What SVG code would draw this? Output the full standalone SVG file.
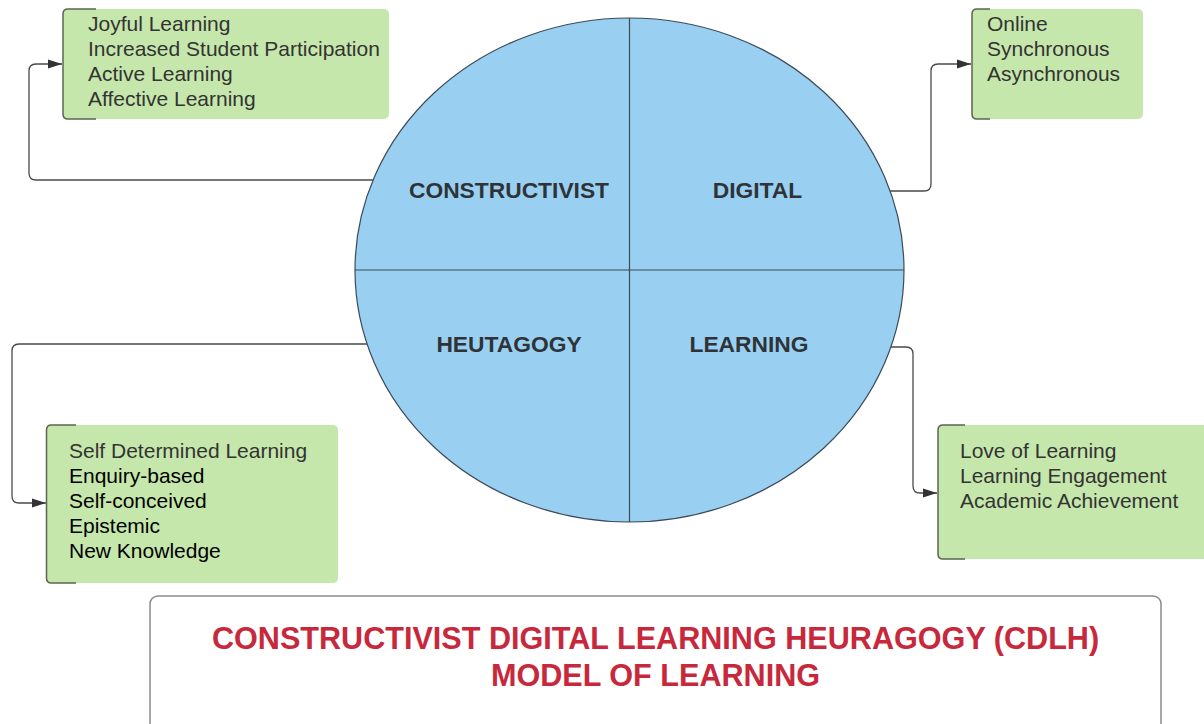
<svg xmlns="http://www.w3.org/2000/svg" width="1204" height="724" viewBox="0 0 1204 724">
<style>
.box{fill:#c6e7ac;stroke:none}
.brk{fill:none;stroke:#5b6553;stroke-width:1.5}
.t{font-family:"Liberation Sans",Arial,sans-serif;font-size:21px;fill:#333333}
.k{fill:#000000}
.q{font-family:"Liberation Sans",Arial,sans-serif;font-size:22.8px;font-weight:bold;fill:#2f3338;text-anchor:middle}
.ttl{font-family:"Liberation Sans",Arial,sans-serif;font-size:30.6px;font-weight:bold;fill:#c8283b;text-anchor:middle}
.c{fill:none;stroke:#4a4a4a;stroke-width:1.3}
</style>
<defs>
<marker id="ah" markerWidth="15" markerHeight="11" refX="14" refY="5.5" orient="auto" markerUnits="userSpaceOnUse">
<path d="M0,1 L14,5.5 L0,10 Z" fill="#333333"/>
</marker>
</defs>
<rect width="1204" height="724" fill="#ffffff"/>
<g id="connectors">
<path class="c" d="M373,180 H36 Q29,180 29,173 V71 Q29,64 36,64 H62" marker-end="url(#ah)"/>
<path class="c" d="M890,191 H924 Q931,191 931,184 V71 Q931,64 938,64 H971" marker-end="url(#ah)"/>
<path class="c" d="M367,344 H19 Q12,344 12,351 V496 Q12,503 19,503 H46" marker-end="url(#ah)"/>
<path class="c" d="M891,347 H906 Q913,347 913,354 V486 Q913,493 920,493 H937" marker-end="url(#ah)"/>
</g>
<g id="circle">
<ellipse cx="629.5" cy="270" rx="274.5" ry="252" fill="#99d0f1" stroke="#3c4a58" stroke-width="1.2"/>
<line x1="355" y1="270" x2="904" y2="270" stroke="#3c4a58" stroke-width="1.2"/>
<line x1="629.5" y1="18" x2="629.5" y2="522" stroke="#3c4a58" stroke-width="1.2"/>
<text class="q" x="509" y="198">CONSTRUCTIVIST</text>
<text class="q" x="757.5" y="198">DIGITAL</text>
<text class="q" x="509" y="352">HEUTAGOGY</text>
<text class="q" x="749" y="352">LEARNING</text>
</g>
<g id="box-constructivist">
<rect class="box" x="63" y="9" width="326" height="110" rx="5"/>
<path class="brk" d="M96,9 H68 Q63,9 63,14 V114 Q63,119 68,119 H96"/>
<text class="t" x="88" y="31">Joyful Learning</text>
<text class="t" x="88" y="56">Increased Student Participation</text>
<text class="t" x="88" y="81">Active Learning</text>
<text class="t" x="88" y="106">Affective Learning</text>
</g>
<g id="box-digital">
<rect class="box" x="972" y="9" width="171" height="110" rx="5"/>
<path class="brk" d="M990,9 H977 Q972,9 972,14 V114 Q972,119 977,119 H990"/>
<text class="t" x="987" y="31">Online</text>
<text class="t" x="987" y="56">Synchronous</text>
<text class="t" x="987" y="81">Asynchronous</text>
</g>
<g id="box-heutagogy">
<rect class="box" x="46.5" y="425" width="291.5" height="158" rx="5"/>
<path class="brk" d="M76,425 H51.5 Q46.5,425 46.5,430 V578 Q46.5,583 51.5,583 H76"/>
<text class="t" x="69" y="458">Self Determined Learning</text>
<text class="t k" x="69" y="483">Enquiry-based</text>
<text class="t k" x="69" y="508">Self-conceived</text>
<text class="t k" x="69" y="533">Epistemic</text>
<text class="t k" x="69" y="558">New Knowledge</text>
</g>
<g id="box-learning">
<rect class="box" x="938" y="425" width="280" height="134" rx="5"/>
<path class="brk" d="M965,425 H943 Q938,425 938,430 V554 Q938,559 943,559 H965"/>
<text class="t" x="960" y="458">Love of Learning</text>
<text class="t" x="960" y="483">Learning Engagement</text>
<text class="t" x="960" y="508">Academic Achievement</text>
</g>
<g id="title">
<rect x="150" y="596" width="1011" height="140" rx="8" fill="#ffffff" stroke="#8a8a8a" stroke-width="1.5"/>
<text class="ttl" x="655.5" y="649">CONSTRUCTIVIST DIGITAL LEARNING HEURAGOGY (CDLH)</text>
<text class="ttl" x="655.5" y="686">MODEL OF LEARNING</text>
</g>
</svg>
